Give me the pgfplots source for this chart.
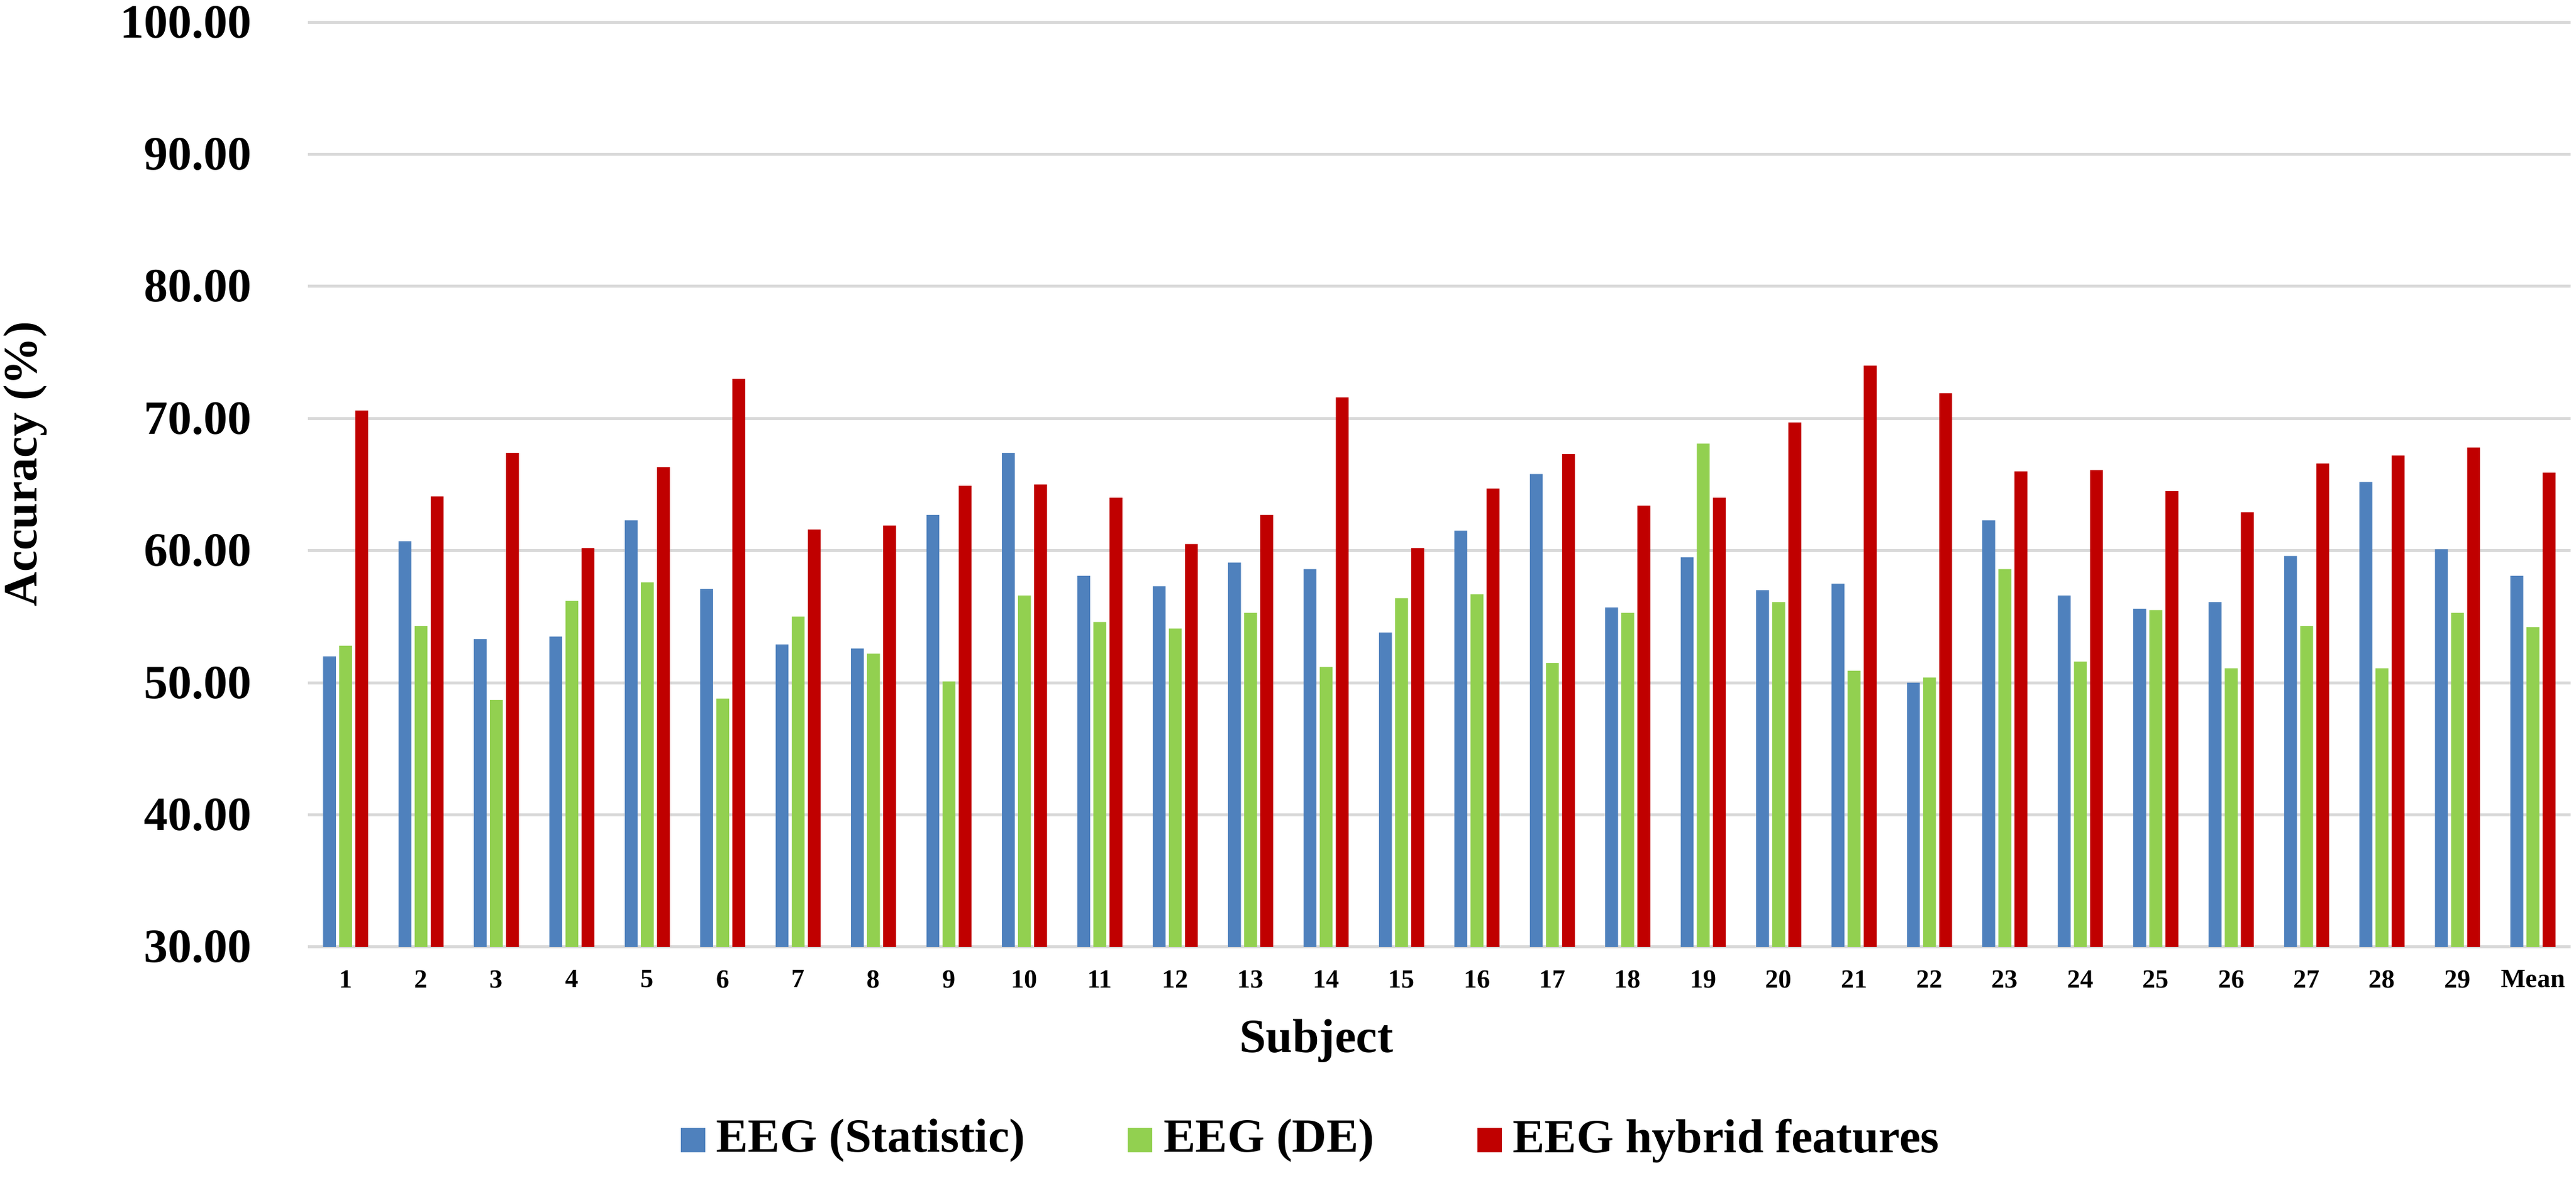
\documentclass[border=0pt]{standalone}
\usepackage{fontspec}
\setmainfont{Liberation Serif}
\usepackage{pgfplots}
\usepackage{pgfplotstable}
\pgfplotsset{compat=1.18}
\definecolor{cblue}{HTML}{4F81BD}
\definecolor{cgreen}{HTML}{92D050}
\definecolor{cred}{HTML}{C00000}
\definecolor{cgrid}{HTML}{D9D9D9}

\pgfplotstableread{
x stat de hyb
1 52.0 52.8 70.6
2 60.7 54.3 64.1
3 53.3 48.7 67.4
4 53.5 56.2 60.2
5 62.3 57.6 66.3
6 57.1 48.8 73.0
7 52.9 55.0 61.6
8 52.6 52.2 61.9
9 62.7 50.1 64.9
10 67.4 56.6 65.0
11 58.1 54.6 64.0
12 57.3 54.1 60.5
13 59.1 55.3 62.7
14 58.6 51.2 71.6
15 53.8 56.4 60.2
16 61.5 56.7 64.7
17 65.8 51.5 67.3
18 55.7 55.3 63.4
19 59.5 68.1 64.0
20 57.0 56.1 69.7
21 57.5 50.9 74.0
22 50.0 50.4 71.9
23 62.3 58.6 66.0
24 56.6 51.6 66.1
25 55.6 55.5 64.5
26 56.1 51.1 62.9
27 59.6 54.3 66.6
28 65.2 51.1 67.2
29 60.1 55.3 67.8
30 58.1 54.2 65.9
}\data

\begin{document}
\begin{tikzpicture}
\path[use as bounding box] (-51.6pt,-38.7pt) rectangle (380.1pt,158.7pt);
\begin{axis}[
  at={(0pt,0pt)}, anchor=south west,
  scale only axis, width=379.2pt, height=155pt,
  xmin=0.5, xmax=30.5, ymin=30, ymax=100,
  ybar, bar width=2.15pt,
  axis line style={draw=none},
  major tick length=0pt,
  ytick={30,40,...,100},
  ymajorgrids, grid style={cgrid, line width=0.5pt},
  xtick={1,...,30},
  xticklabels={1,2,3,4,5,6,7,8,9,10,11,12,13,14,15,16,17,18,19,20,21,22,23,24,25,26,27,28,29,Mean},
  /pgf/number format/fixed,
  /pgf/number format/fixed zerofill,
  /pgf/number format/precision=2,
  /pgf/number format/assume math mode=true,
  yticklabel style={font=\fontsize{8}{9}\selectfont\bfseries, inner sep=0pt, anchor=east, xshift=-9.2pt},
  xticklabel style={font=\fontsize{4.4}{5}\selectfont\bfseries, inner sep=0pt, anchor=north, yshift=-3.7pt},
  xlabel={Subject},
  xlabel style={at={(axis description cs:0.4457,-0.1142)}, anchor=base, font=\fontsize{8}{9}\selectfont\bfseries, inner sep=0pt},
  ylabel={Accuracy (\%)},
  ylabel style={at={(axis description cs:-0.125,0.5223)}, anchor=center, font=\fontsize{8}{9}\selectfont\bfseries, inner sep=0pt},
  legend columns=3,
  legend image code/.code={\draw[#1, draw=none] (0pt,-2.05pt) rectangle (4.1pt,2.05pt);},
  legend style={at={(axis description cs:0.1647,-0.2087)}, anchor=west, draw=none, fill=none,
    font=\fontsize{8}{9}\selectfont\bfseries, inner sep=0pt, outer sep=0pt,
    /tikz/every odd column/.append style={column sep=1.9pt},
    /tikz/every even column/.append style={column sep=17.2pt},
    nodes={inner sep=0pt}},
]
\addplot[fill=cblue, draw=none, bar shift=-2.7pt] table[x=x,y=stat]{\data};
\addplot[fill=cgreen, draw=none, bar shift=0pt] table[x=x,y=de]{\data};
\addplot[fill=cred, draw=none, bar shift=2.7pt] table[x=x,y=hyb]{\data};
\legend{EEG (Statistic), EEG (DE), EEG hybrid features}
\end{axis}
\end{tikzpicture}
\end{document}
